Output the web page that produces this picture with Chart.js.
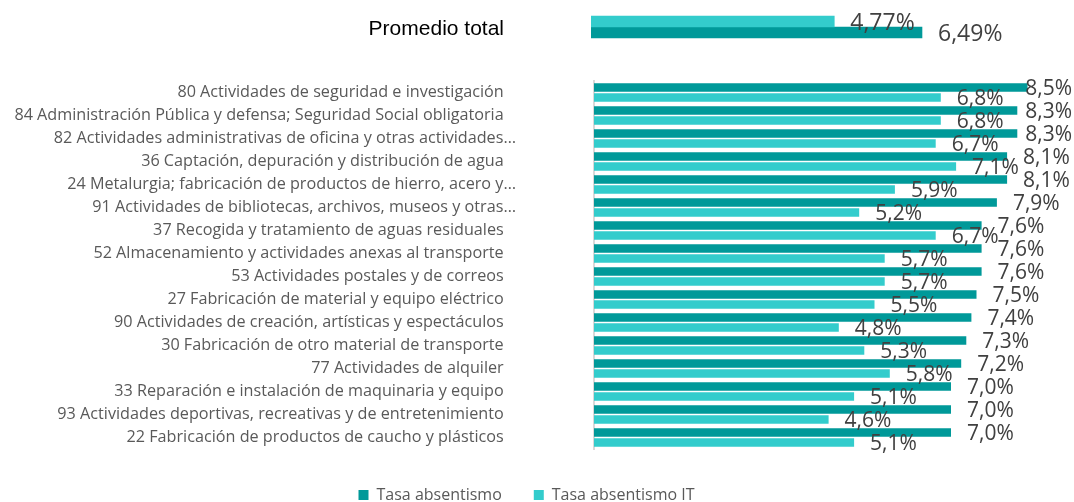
<!DOCTYPE html>
<html lang="es">
<head>
<meta charset="utf-8">
<title>Tasa de absentismo por actividad</title>
<script src="https://cdn.jsdelivr.net/npm/chart.js@4.4.1/dist/chart.umd.min.js"></script>
<style>
    html, body { margin: 0; padding: 0; background: #fff; overflow: hidden; }
    #topChart { position: absolute; left: 0; top: 0; }
    #mainChart { position: absolute; left: 0; top: 56px; }
</style>
</head>
<body>
<canvas id="topChart" width="1074" height="54"></canvas>
<canvas id="mainChart" width="1074" height="470"></canvas>
<script>
// Datos
const promedioLabels = ['Promedio total'];
const promedioAbsentismo = [6.49];
const promedioIT = [4.77];

const categorias = [
    '80 Actividades de seguridad e investigación',
    '84 Administración Pública y defensa; Seguridad Social obligatoria',
    '82 Actividades administrativas de oficina y otras actividades…',
    '36 Captación, depuración y distribución de agua',
    '24 Metalurgia; fabricación de productos de hierro, acero y…',
    '91 Actividades de bibliotecas, archivos, museos y otras…',
    '37 Recogida y tratamiento de aguas residuales',
    '52 Almacenamiento y actividades anexas al transporte',
    '53 Actividades postales y de correos',
    '27 Fabricación de material y equipo eléctrico',
    '90 Actividades de creación, artísticas y espectáculos',
    '30 Fabricación de otro material de transporte',
    '77 Actividades de alquiler',
    '33 Reparación e instalación de maquinaria y equipo',
    '93 Actividades deportivas, recreativas y de entretenimiento',
    '22 Fabricación de productos de caucho y plásticos'
];
const tasaAbsentismo = [8.5, 8.3, 8.3, 8.1, 8.1, 7.9, 7.6, 7.6, 7.6, 7.5, 7.4, 7.3, 7.2, 7.0, 7.0, 7.0];
const tasaAbsentismoIT = [6.8, 6.8, 6.7, 7.1, 5.9, 5.2, 6.7, 5.7, 5.7, 5.5, 4.8, 5.3, 5.8, 5.1, 4.6, 5.1];

const colorOscuro = '#009999';
const colorClaro = '#33CCCC';

// Etiquetas de valor al final de cada barra
const etiquetasValor = {
    id: 'etiquetasValor',
    afterDatasetsDraw(chart, args, opts) {
        const ctx = chart.ctx;
        ctx.save();
        ctx.font = opts.size + 'px "Open Sans"';
        ctx.fillStyle = '#404040';
        ctx.textBaseline = 'middle';
        ctx.textAlign = 'left';
        chart.data.datasets.forEach((ds, i) => {
            const meta = chart.getDatasetMeta(i);
            meta.data.forEach((bar, j) => {
                const txt = ds.data[j].toFixed(opts.decimals).replace('.', ',') + '%';
                const w = ctx.measureText(txt).width;
                // no salirse del borde derecho
                const x = Math.min(bar.x + 16, chart.width - w - 2);
                ctx.fillText(txt, x, bar.y + opts.dy);
            });
        });
        ctx.restore();
    }
};

function initCharts() {
    // Gráfica superior: promedio total
    new Chart(document.getElementById('topChart'), {
        type: 'bar',
        data: {
            labels: promedioLabels,
            datasets: [
                { label: 'Tasa absentismo IT', data: promedioIT, backgroundColor: colorClaro, barThickness: 11 },
                { label: 'Tasa absentismo', data: promedioAbsentismo, backgroundColor: colorOscuro, barThickness: 11 }
            ]
        },
        options: {
            indexAxis: 'y',
            responsive: false,
            animation: false,
            layout: { padding: { left: 0, right: 24, top: 0, bottom: 0 } },
            scales: {
                x: { display: false, min: 0, max: 9 },
                y: {
                    afterFit: (scale) => { scale.width = 591; },
                    // el tickLength separa la etiqueta de las barras (no se dibuja)
                    grid: { display: false, drawTicks: true, tickLength: 87 },
                    border: { display: false },
                    ticks: {
                        padding: 0,
                        labelOffset: 2,
                        color: '#000000',
                        font: { family: '"Liberation Sans", Arial', size: 21 }
                    }
                }
            },
            plugins: {
                legend: { display: false },
                tooltip: { enabled: false },
                etiquetasValor: { size: 23, decimals: 2, dy: 2 }
            }
        },
        plugins: [etiquetasValor]
    });

    // Gráfica principal por actividad
    new Chart(document.getElementById('mainChart'), {
        type: 'bar',
        data: {
            labels: categorias,
            datasets: [
                { label: 'Tasa absentismo', data: tasaAbsentismo, backgroundColor: colorOscuro },
                { label: 'Tasa absentismo IT', data: tasaAbsentismoIT, backgroundColor: colorClaro }
            ]
        },
        options: {
            indexAxis: 'y',
            responsive: false,
            animation: false,
            categoryPercentage: 0.87,
            barPercentage: 0.85,
            layout: { padding: { left: 0, right: 21, top: 25, bottom: 13 } },
            scales: {
                // eje x invisible, solo deja un hueco antes de la leyenda
                x: {
                    min: 0, max: 9,
                    grid: { display: false },
                    border: { display: false },
                    ticks: { display: false },
                    afterFit: (scale) => { scale.height = 6; }
                },
                y: {
                    afterFit: (scale) => { scale.width = 594; },
                    grid: { display: false, drawTicks: true, tickLength: 78 },
                    border: { display: true, color: '#d9d9d9', width: 2 },
                    ticks: {
                        padding: 0,
                        color: '#595959',
                        font: { family: '"Open Sans"', size: 16.2 },
                        // los textos completos terminan antes que los recortados con "…"
                        callback: function (value) {
                            const t = this.getLabelForValue(value);
                            return t.endsWith('…') ? t : t + '\u2002 ';
                        }
                    }
                }
            },
            plugins: {
                legend: {
                    position: 'bottom',
                    labels: {
                        boxWidth: 10,
                        boxHeight: 10,
                        padding: 32,
                        color: '#595959',
                        font: { family: '"Open Sans"', size: 16 }
                    }
                },
                tooltip: { enabled: false },
                etiquetasValor: { size: 21, decimals: 1, dy: 2 }
            }
        },
        plugins: [etiquetasValor]
    });
}

document.addEventListener('DOMContentLoaded', initCharts);
</script>
</body>
</html>
